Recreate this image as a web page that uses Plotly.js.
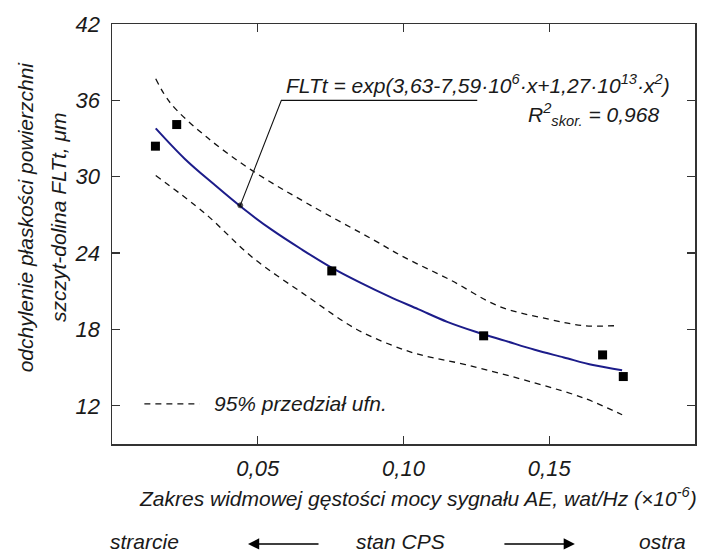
<!DOCTYPE html>
<html>
<head>
<meta charset="utf-8">
<script src="https://cdn.plot.ly/plotly-3.0.1.min.js"></script>
<style>html,body{margin:0;padding:0;background:#fff;}#chart{width:704px;height:555px;}</style>
</head>
<body>
<div id="chart"></div>
<script>
// measured points
const pointsX = [0.0149, 0.0222, 0.0754, 0.1275, 0.1683, 0.1754];
const pointsY = [32.4, 34.1, 22.6, 17.5, 16.0, 14.3];
// fitted curve
const fitX = [0.015, 0.025, 0.035, 0.045, 0.055, 0.065, 0.075, 0.085, 0.095, 0.105, 0.115, 0.125, 0.135, 0.145, 0.155, 0.165, 0.175];
const fitY = [33.8, 31.4, 29.4, 27.5, 25.8, 24.3, 22.9, 21.7, 20.6, 19.6, 18.6, 17.8, 17.1, 16.4, 15.8, 15.2, 14.8];
// 95% confidence band
const upperX = [0.015, 0.020, 0.032, 0.048, 0.067, 0.090, 0.100, 0.116, 0.133, 0.150, 0.162, 0.173];
const upperY = [37.7, 35.8, 33.2, 30.5, 27.9, 25.0, 23.7, 21.9, 19.8, 18.8, 18.3, 18.3];
const lowerX = [0.015, 0.032, 0.048, 0.067, 0.084, 0.099, 0.106, 0.122, 0.145, 0.162, 0.175];
const lowerY = [30.1, 27.1, 23.7, 20.6, 18.0, 16.5, 16.0, 15.2, 13.8, 12.6, 11.3];
// leader line of the equation label
const leaderX = [0.044, 0.0581, 0.1253];
const leaderY = [27.75, 36.0, 36.0];
// legend sample
const legendX = [0.0111, 0.0300];
const legendY = [12.15, 12.15];
// ticks
const xTicks = [0.05, 0.10, 0.15];
const yTicks = [12, 18, 24, 30, 36, 42];

const FONT = "'Liberation Sans', Arial, sans-serif";
const f = (s) => ({family: FONT, size: s, color: '#1a1a1a', style: 'italic'});
const FS = 21;

const traces = [
  {x: upperX, y: upperY, mode: 'lines', line: {color: '#111', width: 1.3, dash: '6px,5px', shape: 'spline'}, showlegend: false, hoverinfo: 'skip'},
  {x: lowerX, y: lowerY, mode: 'lines', line: {color: '#111', width: 1.3, dash: '6px,5px', shape: 'spline'}, showlegend: false, hoverinfo: 'skip'},
  {x: fitX, y: fitY, mode: 'lines', line: {color: '#1c1c8a', width: 2, shape: 'spline'}, showlegend: false},
  {x: pointsX, y: pointsY, mode: 'markers', marker: {symbol: 'square', size: 9, color: '#000'}, showlegend: false},
  {x: leaderX, y: leaderY, mode: 'lines+markers', line: {color: '#111', width: 1.1}, marker: {size: [5, 0, 0], color: '#000'}, showlegend: false, hoverinfo: 'skip'},
  {x: legendX, y: legendY, mode: 'lines', line: {color: '#111', width: 1.3, dash: '6px,5px'}, showlegend: false, hoverinfo: 'skip'}
];

const axisCommon = {
  showgrid: false, zeroline: false, showline: true, linecolor: '#333', linewidth: 1.5,
  mirror: 'ticks', ticks: 'inside', ticklen: 8, tickwidth: 1.3, tickcolor: '#333',
  tickfont: f(FS + 1)
};

const ann = (o) => Object.assign({xref: 'paper', yref: 'paper', showarrow: false, xanchor: 'center', yanchor: 'middle', font: f(FS)}, o);

const layout = {
  width: 704, height: 555,
  margin: {l: 112, r: 9, t: 24, b: 111},
  paper_bgcolor: '#fff', plot_bgcolor: '#fff',
  separators: ', ',
  showlegend: false,
  xaxis: Object.assign({}, axisCommon, {range: [0, 0.2], tickvals: xTicks, tickformat: '.2f', ticklabelstandoff: 4}),
  yaxis: Object.assign({}, axisCommon, {range: [9, 42], tickvals: yTicks, ticklabelstandoff: 6}),
  annotations: [
    ann({xref: 'x', yref: 'y', x: 0.1254, y: 37.3,
     text: 'FLTt = exp(3,63-7,59·10<sup>6</sup>·x+1,27·10<sup>13</sup>·x<sup>2</sup>)'}),
    ann({xref: 'x', yref: 'y', x: 0.1883, y: 34.9, xanchor: 'right',
     text: 'R<sup>2</sup><sub>skor.</sub> = 0,968'}),
    ann({xref: 'x', yref: 'y', x: 0.0342, y: 12.15, xanchor: 'left',
     text: '95% przedział ufn.'}),
    ann({x: -0.149, y: 0.54, textangle: -90, text: 'odchylenie płaskości powierzchni'}),
    ann({x: -0.093, y: 0.54, textangle: -90, text: 'szczyt-dolina FLTt, μm'}),
    ann({x: 0.525, y: -0.126, text: 'Zakres widmowej gęstości mocy sygnału AE, wat/Hz (×10<sup>-6</sup>)'}),
    ann({x: 0.055, y: -0.231, text: 'strarcie'}),
    ann({x: 0.494, y: -0.231, text: 'stan CPS'}),
    ann({x: 0.945, y: -0.231, text: 'ostra'}),
    {xref: 'paper', yref: 'paper', x: 0.2333, y: -0.238, ax: 72, ay: 0, text: '', showarrow: true,
     arrowhead: 2, arrowsize: 1.4, arrowwidth: 1.6, arrowcolor: '#000'},
    {xref: 'paper', yref: 'paper', x: 0.794, y: -0.238, ax: -72, ay: 0, text: '', showarrow: true,
     arrowhead: 2, arrowsize: 1.4, arrowwidth: 1.6, arrowcolor: '#000'}
  ]
};

Plotly.newPlot('chart', traces, layout, {displayModeBar: false, staticPlot: true});
</script>
</body>
</html>
